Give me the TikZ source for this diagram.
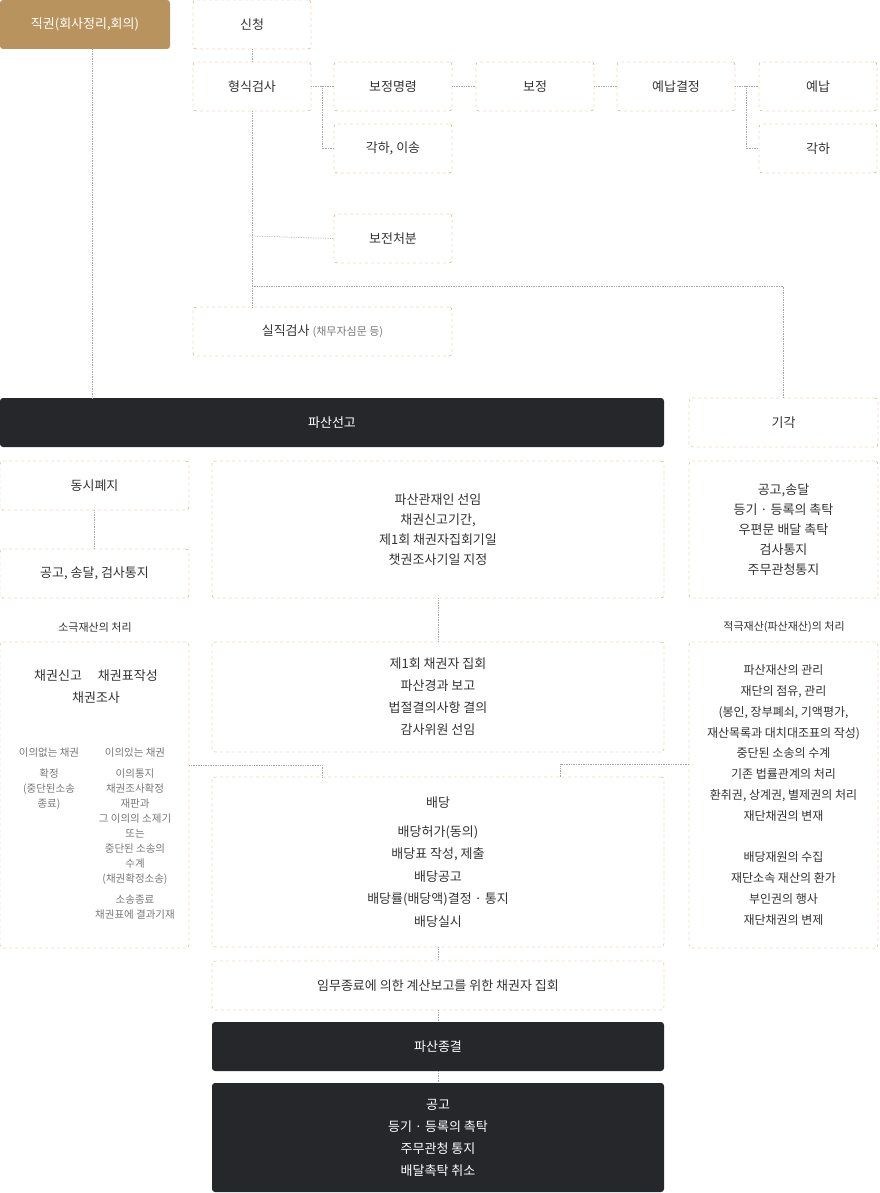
\documentclass[tikz,border=0pt]{standalone}
\usepackage{fontspec}
\setmainfont{Noto Sans CJK KR}
\usetikzlibrary{positioning,calc}
\definecolor{tan}{HTML}{B8935E}
\definecolor{dashc}{HTML}{C49A5C}
\definecolor{darkbox}{HTML}{26272B}
\definecolor{txt}{HTML}{333333}
\definecolor{soft}{HTML}{777777}
\tikzset{
  box/.style={draw=dashc, dashed, rounded corners=3pt, minimum width=118pt, minimum height=49pt, inner sep=0pt, align=center, font=\fontsize{13}{20}\selectfont, text=txt},
  wide/.style={box, minimum width=#1},
  solidbox/.style={box, draw=none, fill=darkbox, text=white, dashed=false},
  link/.style={gray!70, densely dotted, line width=0.7pt}
}
\begin{document}
\begin{tikzpicture}[x=1pt, y=-1pt]
\useasboundingbox (0,0) rectangle (879,1193);
% top row
\node[box, draw=none, fill=tan, text=white, minimum width=170pt] (jik) at (85,24.5) {직권(회사정리,회의)};
\node[box] (sin) at (252,24.5) {신청};
\node[box] (hyeong) at (252,86.5) {형식검사};
\node[box] (bomyeong) at (393,86.5) {보정명령};
\node[box] (bo) at (535,86.5) {보정};
\node[box] (yegyeol) at (676,86.5) {예납결정};
\node[box] (yenap) at (818,86.5) {예납};
\node[box] (gakisong) at (393,148.5) {각하, 이송};
\node[box] (gak) at (818,148.5) {각하};
\node[box] (bojeon) at (393,238.5) {보전처분};
\node[wide=259pt] (siljik) at (322.5,331.5) {실직검사 {\fontsize{11}{14}\selectfont\color{soft}(채무자심문 등)}};
% declaration row
\node[solidbox, minimum width=664pt] (seongo) at (332,422.5) {파산선고};
\node[wide=189pt] (gigak) at (783.5,422.5) {기각};
\node[wide=189pt] (pyeji) at (94.5,485.5) {동시폐지};
\node[wide=189pt] (gonggo) at (94.5,573.5) {공고, 송달, 검사통지};
\node[wide=452pt, minimum height=137pt] (seonim) at (438,529.5) {파산관재인 선임\\채권신고기간,\\제1회 채권자집회기일\\챗권조사기일 지정};
\node[wide=189pt, minimum height=137pt] (notice) at (783.5,529.5) {공고,송달\\등기 · 등록의 촉탁\\우편문 배달 촉탁\\검사통지\\주무관청통지};
% estate handling
\node[font=\fontsize{11}{14}\selectfont, text=txt] (soklab) at (95,627) {소극재산의 처리};
\node[font=\fontsize{11}{14}\selectfont, text=txt] (jeoklab) at (784,627) {적극재산(파산재산)의 처리};
\node[wide=189pt, minimum height=306pt] (left) at (94.5,795) {};
\node[font=\fontsize{13}{22}\selectfont, text=txt, align=center] (chae) at (96,687) {채권신고\quad\ 채권표작성\\채권조사};
\node[font=\fontsize{10.5}{15}\selectfont, text=soft, align=center, anchor=north] (eobs) at (49,744) {이의없는 채권\\[6pt]확정\\(중단된소송\\종료)};
\node[font=\fontsize{10.5}{15}\selectfont, text=soft, align=center, anchor=north] (iss) at (135,744) {이의있는 채권\\[6pt]이의통지\\채권조사확정\\재판과\\그 이의의 소제기\\또는\\중단된 소송의\\수계\\(채권확정소송)\\[6pt]소송종료\\채권표에 결과기재};
\node[wide=452pt, minimum height=110pt, font=\fontsize{13}{22}\selectfont] (jiphoe) at (438,697) {제1회 채권자 집회\\파산경과 보고\\법절결의사항 결의\\감사위원 선임};
\node[wide=452pt, minimum height=170pt, font=\fontsize{13}{22.5}\selectfont] (baedang) at (438,862) {배당\\[6pt]배당허가(동의)\\배당표 작성, 제출\\배당공고\\배당률(배당액)결정 · 통지\\배당실시};
\node[wide=189pt, minimum height=306pt, font=\fontsize{12}{20.8}\selectfont] (right) at (783.5,795) {파산재산의 관리\\재단의 점유, 관리\\(봉인, 장부폐쇠, 기액평가,\\재산목록과 대치대조표의 작성)\\중단된 소송의 수계\\기존 법률관계의 처리\\환취권, 상계권, 별제권의 처리\\재단채권의 변재\\[20.8pt]배당재원의 수집\\재단소속 재산의 환가\\부인권의 행사\\재단채권의 변제};
% closing
\node[wide=452pt] (imu) at (438,985.5) {임무종료에 의한 계산보고를 위한 채권자 집회};
\node[solidbox, minimum width=452pt] (jonggyeol) at (438,1046.5) {파산종결};
\node[solidbox, minimum width=452pt, minimum height=109pt, font=\fontsize{13}{22}\selectfont] (final) at (438,1137.5) {공고\\등기 · 등록의 촉탁\\주무관청 통지\\배달촉탁 취소};
% connectors
\draw[link] (jik.south -| 92,0) -- (seongo.north -| 92,0);
\draw[link] (sin) -- (hyeong);
\draw[link] (hyeong) -- (bomyeong);
\draw[link] (hyeong.east -| 322,0) |- (gakisong.west);
\draw[link] (bomyeong) -- (bo);
\draw[link] (bo) -- (yegyeol);
\draw[link] (yegyeol) -- (yenap);
\draw[link] (yegyeol.east -| 746,0) |- (gak.west);
\draw[link] (hyeong.south) -- (hyeong.south |- siljik.north);
\draw[link] (252,236) -- (bojeon.west);
\draw[link] (252,286) -| (gigak.north);
\draw[link] (pyeji) -- (gonggo);
\draw[link] (seonim) -- (jiphoe);
\draw[link] (left.east |- 0,765) -| (322,777);
\draw[link] (right.west |- 0,764) -| (560,777);
\draw[link] (baedang) -- (imu);
\draw[link] (imu) -- (jonggyeol);
\draw[link] (jonggyeol) -- (final);
\end{tikzpicture}
\end{document}
